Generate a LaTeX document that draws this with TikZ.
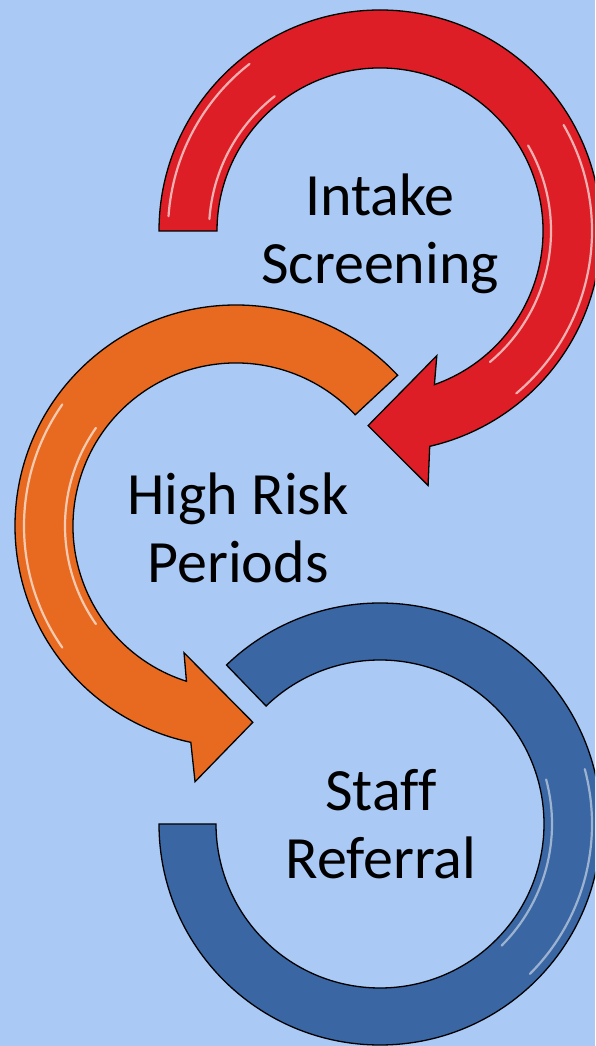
\documentclass[tikz,border=0pt]{standalone}
\usepackage{fontspec}
\setmainfont{Carlito}[Ligatures=NoCommon]

\definecolor{bgblue}{RGB}{170,201,245}
\definecolor{ringred}{RGB}{221,30,38}
\definecolor{ringorange}{RGB}{232,106,32}
\definecolor{ringblue}{RGB}{58,102,163}

\begin{document}
\begin{tikzpicture}[x=1pt,y=1pt,
    ring/.style={draw=black, line width=1.3pt, line join=miter},
    gloss/.style={white, opacity=0.65, line width=2.2pt, line cap=round},
    label/.style={font=\fontsize{60}{68}\selectfont, align=center, text=black}]
    % Background
    \fill[bgblue] (0,0) rectangle (595,1046);
    \useasboundingbox (0,0) rectangle (595,1046);
    \clip (0,0) rectangle (595,1046);

    % Red arrow
    \begin{scope}[shift={(380,815)}]
      \filldraw[ring, fill=ringred] (180:221) arc[start angle=180, end angle=-77, radius=221]
        -- (-79.3:259) -- (-93.5:195) -- (-65.5:137) -- (-70.5:163)
        arc[start angle=-70.5, end angle=180, radius=163] -- cycle;
      \draw[gloss] (176:212) arc[start angle=176, end angle=128, radius=212];
      \draw[gloss] (176:171) arc[start angle=176, end angle=128, radius=171];
      \draw[gloss] (30:212) arc[start angle=30, end angle=-50, radius=212];
      \draw[gloss] (30:171) arc[start angle=30, end angle=-50, radius=171];
    \end{scope}

    % Orange arrow
    \begin{scope}[shift={(236,520)}]
      \filldraw[ring, fill=ringorange] (43:221) arc[start angle=43, end angle=258.2, radius=221]
        -- (260.9:259) -- (274.9:197) -- (247.7:137) -- (252.3:163)
        arc[start angle=252.3, end angle=43, radius=163] -- cycle;
      \draw[gloss] (145:212) arc[start angle=145, end angle=215, radius=212];
      \draw[gloss] (145:171) arc[start angle=145, end angle=215, radius=171];
    \end{scope}

    % Blue ring
    \begin{scope}[shift={(380,222)}]
      \filldraw[ring, fill=ringblue] (180:221) arc[start angle=180, end angle=494, radius=221]
        -- (494:164) arc[start angle=494, end angle=180, radius=164] -- cycle;
      \draw[gloss, opacity=0.5] (15:212) arc[start angle=15, end angle=-45, radius=212];
      \draw[gloss, opacity=0.5] (15:172) arc[start angle=15, end angle=-45, radius=172];
    \end{scope}

    % Labels
    \node[label] (intake) at (380,812) {Intake\\Screening};
    \node[label] (risk) at (238,518) {High Risk\\Periods};
    \node[label] (referral) at (381,222) {Staff\\Referral};
\end{tikzpicture}
\end{document}
